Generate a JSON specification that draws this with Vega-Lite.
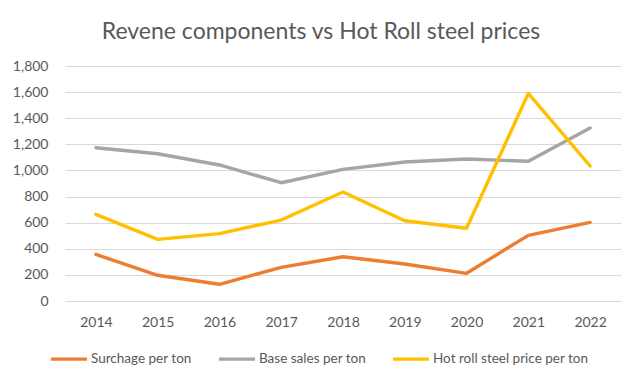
{
  "$schema": "https://vega.github.io/schema/vega-lite/v6.json",
  "autosize": "none",
  "width": 556,
  "height": 235,
  "padding": {"left": 65, "top": 66, "right": 19, "bottom": 83},
  "background": "white",
  "title": {
    "text": "Revene components vs Hot Roll steel prices",
    "font": "Lato",
    "fontSize": 23,
    "fontWeight": "normal",
    "color": "#595959",
    "anchor": "middle",
    "dx": -22,
    "offset": 15
  },
  "data": {
    "values": [
      {"year": "2014", "series": "Surchage per ton", "value": 357},
      {"year": "2015", "series": "Surchage per ton", "value": 197},
      {"year": "2016", "series": "Surchage per ton", "value": 128},
      {"year": "2017", "series": "Surchage per ton", "value": 258},
      {"year": "2018", "series": "Surchage per ton", "value": 339},
      {"year": "2019", "series": "Surchage per ton", "value": 283},
      {"year": "2020", "series": "Surchage per ton", "value": 212},
      {"year": "2021", "series": "Surchage per ton", "value": 503},
      {"year": "2022", "series": "Surchage per ton", "value": 602},
      {"year": "2014", "series": "Base sales per ton", "value": 1174},
      {"year": "2015", "series": "Base sales per ton", "value": 1128},
      {"year": "2016", "series": "Base sales per ton", "value": 1042},
      {"year": "2017", "series": "Base sales per ton", "value": 906},
      {"year": "2018", "series": "Base sales per ton", "value": 1008},
      {"year": "2019", "series": "Base sales per ton", "value": 1065},
      {"year": "2020", "series": "Base sales per ton", "value": 1088},
      {"year": "2021", "series": "Base sales per ton", "value": 1070},
      {"year": "2022", "series": "Base sales per ton", "value": 1325},
      {"year": "2014", "series": "Hot roll steel price per ton", "value": 664},
      {"year": "2015", "series": "Hot roll steel price per ton", "value": 472},
      {"year": "2016", "series": "Hot roll steel price per ton", "value": 516},
      {"year": "2017", "series": "Hot roll steel price per ton", "value": 620},
      {"year": "2018", "series": "Hot roll steel price per ton", "value": 835},
      {"year": "2019", "series": "Hot roll steel price per ton", "value": 615},
      {"year": "2020", "series": "Hot roll steel price per ton", "value": 557},
      {"year": "2021", "series": "Hot roll steel price per ton", "value": 1590},
      {"year": "2022", "series": "Hot roll steel price per ton", "value": 1034}
    ]
  },
  "mark": {"type": "line", "strokeWidth": 3.4, "strokeCap": "round", "strokeJoin": "round"},
  "encoding": {
    "x": {
      "field": "year",
      "type": "ordinal",
      "scale": {"type": "point", "padding": 0.5},
      "axis": {
        "title": null,
        "labelAngle": 0,
        "labelFont": "Lato",
        "labelFontSize": 14,
        "labelColor": "#595959",
        "ticks": false,
        "domainColor": "#d9d9d9",
        "labelPadding": 14,
        "grid": false
      }
    },
    "y": {
      "field": "value",
      "type": "quantitative",
      "scale": {"domain": [0, 1800], "nice": false},
      "axis": {
        "title": null,
        "values": [0, 200, 400, 600, 800, 1000, 1200, 1400, 1600, 1800],
        "format": ",d",
        "labelFont": "Lato",
        "labelFontSize": 14,
        "labelColor": "#595959",
        "ticks": false,
        "domain": false,
        "gridColor": "#d9d9d9",
        "labelPadding": 17
      }
    },
    "color": {
      "field": "series",
      "type": "nominal",
      "scale": {
        "domain": ["Surchage per ton", "Base sales per ton", "Hot roll steel price per ton"],
        "range": ["#ED7D31", "#A5A5A5", "#FFC000"]
      },
      "legend": {
        "title": null,
        "orient": "none",
        "direction": "horizontal",
        "legendX": -16,
        "legendY": 273,
        "symbolType": "stroke",
        "symbolSize": 1300,
        "symbolStrokeWidth": 3.4,
        "labelFont": "Lato",
        "labelFontSize": 13.5,
        "labelLimit": 400,
        "labelColor": "#595959",
        "labelOffset": 2,
        "columnPadding": 20
      }
    }
  },
  "config": {
    "view": {"stroke": null}
  }
}
